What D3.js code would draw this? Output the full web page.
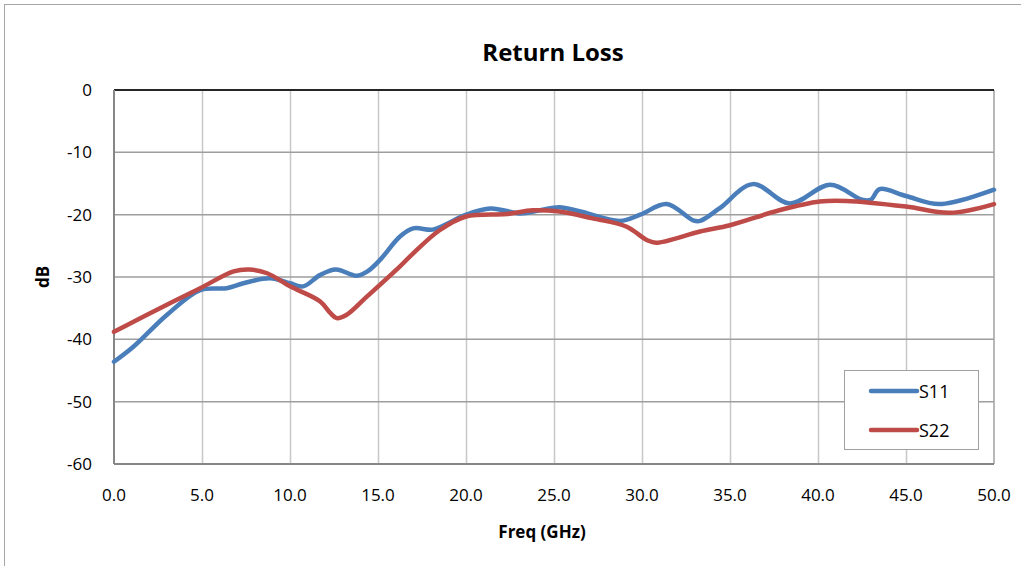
<!DOCTYPE html>
<html><head><meta charset="utf-8">
<script src="https://cdn.jsdelivr.net/npm/d3@7"></script>
<style>body{margin:0;background:#fff;} text{font-family:"Open Sans","Noto Sans",sans-serif;fill:#000;}</style>
</head><body>
<svg id="c" width="1021" height="566"></svg>
<script>
const title = "Return Loss";
const xLabel = "Freq (GHz)";
const yLabel = "dB";
const xTicks = [0,5,10,15,20,25,30,35,40,45,50];
const yTicks = [0,-10,-20,-30,-40,-50,-60];

const s11Freq = [0,1.1,3.0,4.9,6.4,7.35,8.86,10,10.75,11.7,12.6,13.8,14.4,15.1,16.25,17.0,18.1,18.9,20.0,21.4,23.1,24.2,25.3,26.5,28.75,29.9,31.4,32.9,33.3,34.4,36.3,38.4,40.7,42.5,43.0,43.5,45.0,46.9,50];
const s11Val  = [-43.6,-41.2,-36.1,-32.1,-31.8,-31.0,-30.2,-31.0,-31.5,-29.7,-28.8,-29.8,-29.1,-27.3,-23.5,-22.2,-22.4,-21.5,-20.0,-19.0,-19.8,-19.3,-18.8,-19.5,-21.0,-20.0,-18.3,-20.9,-21.0,-19.0,-15.1,-18.2,-15.2,-17.6,-17.6,-15.9,-17.0,-18.3,-16.0];

const s22Freq = [0,2.05,4.9,6.8,7.7,8.7,10,11.7,12.3,12.65,13.2,14.35,16.25,17.0,18.5,20.0,22.3,23.8,25.3,27.2,29.1,30.3,30.8,33.3,35.0,37.8,40.1,41.6,45.0,47.5,50];
const s22Val  = [-38.8,-35.8,-31.8,-29.1,-28.8,-29.4,-31.5,-33.9,-35.8,-36.6,-36.1,-33.2,-28.3,-26.2,-22.5,-20.3,-19.9,-19.3,-19.5,-20.6,-21.9,-24.1,-24.5,-22.7,-21.7,-19.3,-17.9,-17.8,-18.7,-19.7,-18.3];

const seriesNames = ["S11","S22"];
const colors = ["#4a7ebb","#be4b48"];

const svg = d3.select("#c");
const L=114, R=994, T=90, B=464;
const x = d3.scaleLinear().domain([0,50]).range([L,R]);
const y = d3.scaleLinear().domain([-60,0]).range([B,T]);

svg.append("rect").attr("x",4.5).attr("y",4.5).attr("width",1040).attr("height",620)
  .attr("fill","none").attr("stroke","#a6a6a6").attr("stroke-width",1);

svg.append("g").selectAll("line").data(xTicks.slice(1,-1)).join("line")
  .attr("x1",d=>x(d)+0.5).attr("x2",d=>x(d)+0.5).attr("y1",T).attr("y2",B)
  .attr("stroke","#c8c8c8").attr("stroke-width",1.5);
svg.append("g").selectAll("line").data(yTicks.slice(1,-1)).join("line")
  .attr("x1",L).attr("x2",R).attr("y1",d=>y(d)).attr("y2",d=>y(d))
  .attr("stroke","#9e9e9e").attr("stroke-width",1.5);
svg.append("line").attr("x1",R).attr("x2",R).attr("y1",T).attr("y2",B).attr("stroke","#a0a0a0").attr("stroke-width",1.5);
svg.append("line").attr("x1",L).attr("x2",R).attr("y1",T).attr("y2",T).attr("stroke","#262626").attr("stroke-width",2);
svg.append("line").attr("x1",L).attr("x2",L).attr("y1",T).attr("y2",B).attr("stroke","#868686").attr("stroke-width",2);
svg.append("line").attr("x1",L).attr("x2",R).attr("y1",B).attr("y2",B).attr("stroke","#868686").attr("stroke-width",2);

svg.append("g").selectAll("text").data(yTicks).join("text")
  .attr("x",92).attr("y",d=>y(d)+6).attr("text-anchor","end")
  .style("font-size","17px").text(d=>String(d));
svg.append("g").selectAll("text").data(xTicks).join("text")
  .attr("x",d=>x(d)).attr("y",501).attr("text-anchor","middle")
  .style("font-size","17px").text(d=>d.toFixed(1));

svg.append("text").attr("x",553).attr("y",61).attr("text-anchor","middle")
  .style("font-size","24px").style("font-weight","bold").text(title);
svg.append("text").attr("x",542).attr("y",538).attr("text-anchor","middle")
  .style("font-size","17px").style("font-weight","bold").text(xLabel);
svg.append("text").attr("transform","translate(49,277) rotate(-90)").attr("text-anchor","middle")
  .style("font-size","17px").style("font-weight","bold").text(yLabel);

const line = d3.line().x(d=>x(d[0])).y(d=>y(d[1])).curve(d3.curveCatmullRom.alpha(0.5));
const data = [d3.zip(s11Freq,s11Val), d3.zip(s22Freq,s22Val)];
svg.append("g").selectAll("path").data(data).join("path")
  .attr("d",line).attr("fill","none").attr("stroke",(d,i)=>colors[i])
  .attr("stroke-width",4.5).attr("stroke-linejoin","round").attr("stroke-linecap","round");

const lg = svg.append("g");
lg.append("rect").attr("x",844.5).attr("y",370.5).attr("width",134).attr("height",79)
  .attr("fill","#fff").attr("stroke","#a0a0a0").attr("stroke-width",1);
seriesNames.forEach((n,i)=>{
  const yy = 391 + i*39;
  lg.append("line").attr("x1",871).attr("x2",917).attr("y1",yy).attr("y2",yy)
    .attr("stroke",colors[i]).attr("stroke-width",4.5).attr("stroke-linecap","round");
  lg.append("text").attr("x",919).attr("y",yy+7).style("font-size","18px").text(n);
});
</script>
</body></html>
